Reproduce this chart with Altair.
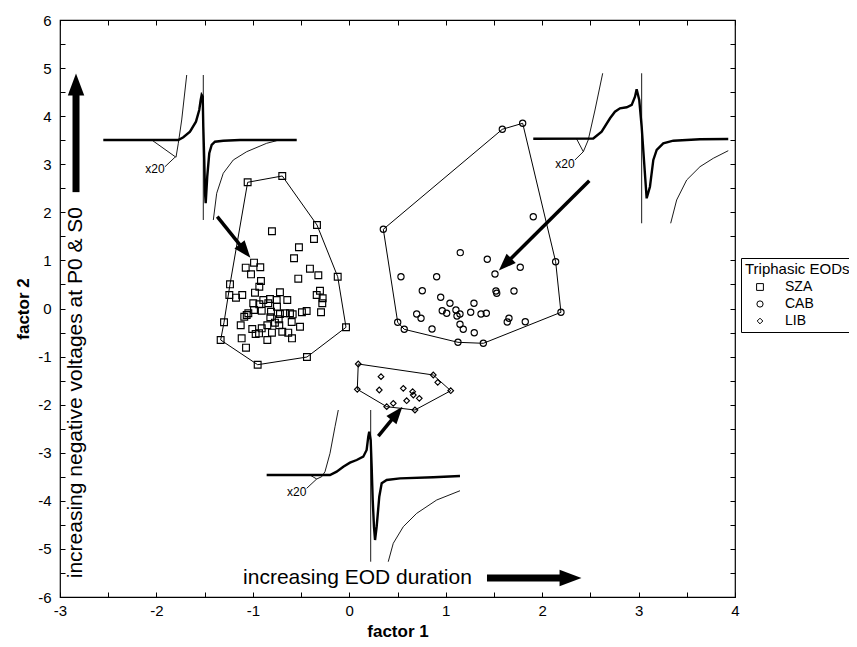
import math
import altair as alt
import pandas as pd

FONT = "Liberation Sans"
W, H = 675, 577
XDOM, YDOM = [-3, 4], [-6, 6]
groups = ["SZA", "CAB", "LIB"]

# ---------------- scatter data (factor 1, factor 2) ----------------
sza_hull_x = [-1.054, -0.695, -0.335, -0.120, -0.034, -0.439, -0.950, -1.334, -1.299, -1.237]
sza_hull_y = [2.625, 2.756, 1.737, 0.661, -0.391, -1.009, -1.169, -0.655, -0.287, 0.503]
sza_x = [-0.802, -0.366, -0.522, -0.573, -0.408, -0.321, -0.529, -0.988, -1.074, -0.923,
         -1.019, -0.916, -0.933, -1.244, -1.175, -1.110, -0.978, -0.719, -0.643, -0.304,
         -0.338, -0.276, -0.280, -0.293, -0.996, -0.933, -0.840, -0.908, -0.988, -0.750,
         -0.812, -1.064, -1.089, -0.667, -0.719, -0.587, -0.491, -0.442, -0.819, -0.732,
         -0.726, -0.597, -0.511, -1.126, -1.006, -0.908, -0.850, -0.971, -0.936, -0.802,
         -0.850, -0.695, -0.633, -0.594, -1.116, -1.071, -0.822, -0.892, -0.615, -0.753,
         -0.771, -1.047]
sza_y = [1.606, 1.446, 1.273, 1.044, 0.828, 0.691, 0.620, 0.953, 0.849, 0.857,
         0.711, 0.572, 0.453, 0.281, 0.225, 0.281, 0.329, 0.337, 0.177, 0.370,
         0.281, 0.212, 0.108, -0.079, 0.108, 0.087, 0.108, -0.046, -0.031, 0.037,
         -0.067, -0.135, -0.171, -0.100, -0.114, -0.121, -0.079, -0.052, -0.183, -0.225,
         -0.349, -0.281, -0.379, -0.349, -0.426, -0.412, -0.349, -0.530, -0.516, -0.503,
         -0.655, -0.483, -0.503, -0.620, -0.620, -0.815, 0.198, 0.177, -0.100, 0.177,
         -0.295, -0.100]

cab_hull_x = [0.353, 1.587, 1.798, 2.140, 2.195, 1.390, 1.127, 0.570, 0.502]
cab_hull_y = [1.647, 3.727, 3.852, 0.973, -0.079, -0.724, -0.703, -0.433, -0.287]
cab_x = [1.908, 1.151, 1.431, 1.511, 1.773, 0.536, 0.906, 0.757, 1.521, 1.529,
         1.708, 0.948, 1.044, 1.293, 0.699, 0.744, 0.964, 1.010, 1.106, 1.148,
         1.259, 1.366, 1.421, 1.148, 1.182, 0.858, 1.296, 1.638, 1.656, 1.825, 1.117]
cab_y = [1.909, 1.161, 1.023, 0.718, 0.857, 0.661, 0.661, 0.370, 0.364, 0.316,
         0.364, 0.233, 0.108, 0.108, -0.114, -0.204, -0.046, -0.100, -0.031, -0.114,
         -0.079, -0.114, -0.100, -0.329, -0.433, -0.426, -0.503, -0.281, -0.204, -0.275, -0.156]

lib_hull_x = [0.093, 0.871, 1.052, 0.681, 0.388, 0.083]
lib_hull_y = [-1.154, -1.383, -1.710, -2.111, -2.042, -1.681]
lib_x = [0.329, 0.311, 0.560, 0.657, 0.664, 0.726, 0.595, 0.917, 0.456]
lib_y = [-1.418, -1.695, -1.660, -1.730, -1.799, -1.868, -1.918, -1.535, -1.972]

# ---------------- EOD waveform insets ----------------
w1_main_x = [-2.551, -1.773, -1.721, -1.652, -1.590, -1.556, -1.541, -1.531, -1.520, -1.514,
             -1.504, -1.496, -1.489, -1.473, -1.452, -1.427, -1.393, -1.307, -1.133, -0.545]
w1_main_y = [3.505, 3.505, 3.561, 3.677, 3.885, 4.128, 4.336, 4.440, 4.405, 3.781,
             3.089, 2.396, 2.188, 2.741, 3.228, 3.401, 3.469, 3.490, 3.505, 3.505]
w1_ampl_x = [-2.049, -1.797, -1.773, -1.738, -1.686]
w1_ampl_y = [3.505, 3.145, 3.436, 3.921, 4.856]
w1_ampr_x = [-1.410, -1.375, -1.307, -1.203, -1.064, -0.857, -0.753]
w1_ampr_y = [1.841, 2.396, 2.812, 3.089, 3.261, 3.436, 3.490]
w1_mark_x = [-1.514, -1.514]
w1_mark_y = [4.856, 1.841]
w1_lead_x = [-1.911, -1.808]
w1_lead_y = [2.949, 3.145]

w2_main_x = [1.908, 2.530, 2.617, 2.704, 2.755, 2.807, 2.877, 2.929, 2.963, 2.980, 3.007,
             3.032, 3.056, 3.084, 3.118, 3.153, 3.188, 3.256, 3.360, 3.637, 3.930]
w2_main_y = [3.530, 3.535, 3.677, 3.956, 4.093, 4.164, 4.185, 4.233, 4.405, 4.559, 4.337,
             3.781, 3.089, 2.292, 2.533, 3.089, 3.297, 3.436, 3.490, 3.519, 3.525]
w2_ampl_x = [2.358, 2.427, 2.478, 2.548, 2.628]
w2_ampl_y = [3.525, 3.261, 3.505, 4.128, 4.892]
w2_ampr_x = [3.333, 3.395, 3.499, 3.637, 3.775, 3.930]
w2_ampr_y = [1.772, 2.257, 2.673, 2.949, 3.124, 3.282]
w2_mark_x = [3.032, 3.032]
w2_mark_y = [4.892, 1.772]
w2_lead_x = [2.340, 2.427]
w2_lead_y = [3.089, 3.261]

w3_main_x = [-0.857, -0.200, -0.131, -0.062, 0.007, 0.077, 0.145, 0.180, 0.197, 0.207, 0.222,
             0.232, 0.243, 0.256, 0.267, 0.284, 0.311, 0.336, 0.388, 0.526, 0.871, 1.148]
w3_main_y = [-3.463, -3.463, -3.394, -3.290, -3.207, -3.151, -3.082, -2.943, -2.666, -2.562, -2.735,
             -3.290, -3.983, -4.538, -4.815, -4.538, -3.914, -3.636, -3.567, -3.532, -3.511, -3.484]
w3_ampl_x = [-0.408, -0.338, -0.286, -0.252, -0.200, -0.148, -0.114]
w3_ampl_y = [-3.463, -3.546, -3.498, -3.394, -3.012, -2.458, -2.111]
w3_ampr_x = [0.404, 0.456, 0.560, 0.699, 0.906, 1.148]
w3_ampr_y = [-5.266, -4.884, -4.538, -4.260, -3.983, -3.790]
w3_mark_x = [0.222, 0.222]
w3_mark_y = [-2.111, -5.266]
w3_lead_x = [-0.442, -0.338]
w3_lead_y = [-3.740, -3.546]

gain_label = "x20"
gain_x = [-2.015, 2.237, -0.546]
gain_y = [2.901, 2.999, -3.810]

# ---------------- arrows ----------------
arrow_tail_x = [-1.369, 2.489, 0.301]
arrow_tail_y = [1.909, 2.658, -2.652]
arrow_head_x = [-1.082, 1.615, 0.494]
arrow_head_y = [1.194, 0.917, -2.180]

big_tail_x = [-2.834, 1.428]
big_tail_y = [2.42, -5.605]
big_head_x = [-2.834, 2.294]
big_head_y = [4.659, -5.605]

note_h = "increasing EOD duration"
note_h_x, note_h_y = 0.085, -5.605
note_v = "increasing negative voltages at P0 & S0"
note_v_x, note_v_y = -2.834, -1.75

xticks = [-3 + 0.5 * i for i in range(15)]
yticks = [-6 + 0.5 * i for i in range(25)]

# ---------------- tables ----------------
pts = pd.concat([
    pd.DataFrame({"group": "SZA", "x": sza_hull_x + sza_x, "y": sza_hull_y + sza_y}),
    pd.DataFrame({"group": "CAB", "x": cab_hull_x + cab_x, "y": cab_hull_y + cab_y}),
    pd.DataFrame({"group": "LIB", "x": lib_hull_x + lib_x, "y": lib_hull_y + lib_y}),
], ignore_index=True)


def line_df(name, xs, ys, close=False):
    xs, ys = list(xs), list(ys)
    if close:
        xs, ys = xs + xs[:1], ys + ys[:1]
    return pd.DataFrame({"id": name, "i": range(len(xs)), "x": xs, "y": ys})


hull = pd.concat([
    line_df("SZA", sza_hull_x, sza_hull_y, True),
    line_df("CAB", cab_hull_x, cab_hull_y, True),
    line_df("LIB", lib_hull_x, lib_hull_y, True),
], ignore_index=True)

thick = pd.concat([
    line_df("w1", w1_main_x, w1_main_y),
    line_df("w2", w2_main_x, w2_main_y),
    line_df("w3", w3_main_x, w3_main_y),
], ignore_index=True)

thin = pd.concat([
    line_df("w1l", w1_ampl_x, w1_ampl_y), line_df("w1r", w1_ampr_x, w1_ampr_y),
    line_df("w1m", w1_mark_x, w1_mark_y), line_df("w1d", w1_lead_x, w1_lead_y),
    line_df("w2l", w2_ampl_x, w2_ampl_y), line_df("w2r", w2_ampr_x, w2_ampr_y),
    line_df("w2m", w2_mark_x, w2_mark_y), line_df("w2d", w2_lead_x, w2_lead_y),
    line_df("w3l", w3_ampl_x, w3_ampl_y), line_df("w3r", w3_ampr_x, w3_ampr_y),
    line_df("w3m", w3_mark_x, w3_mark_y), line_df("w3d", w3_lead_x, w3_lead_y),
], ignore_index=True)

KX, KY = W / (XDOM[1] - XDOM[0]), H / (YDOM[1] - YDOM[0])


def arrow_df(tx, ty, hx, hy):
    df = pd.DataFrame({"x": tx, "y": ty, "x2": hx, "y2": hy})
    df["angle"] = [
        math.degrees(math.atan2((b - a) * KX, (d - c) * KY)) % 360
        for a, b, c, d in zip(tx, hx, ty, hy)
    ]
    return df


arrows = arrow_df(arrow_tail_x, arrow_tail_y, arrow_head_x, arrow_head_y)
big_arrows = arrow_df(big_tail_x, big_tail_y, big_head_x, big_head_y)
gains = pd.DataFrame({"x": gain_x, "y": gain_y, "t": gain_label})
notes_h = pd.DataFrame({"x": [note_h_x], "y": [note_h_y], "t": [note_h]})
notes_v = pd.DataFrame({"x": [note_v_x], "y": [note_v_y], "t": [note_v]})

xs = alt.Scale(domain=XDOM, nice=False, zero=False)
ys = alt.Scale(domain=YDOM, nice=False, zero=False)


def ex(f="x"):
    return alt.X(f"{f}:Q", scale=xs, axis=None)


def ey(f="y"):
    return alt.Y(f"{f}:Q", scale=ys, axis=None)


hull_layer = alt.Chart(hull).mark_line(color="black", strokeWidth=1).encode(
    x=ex(), y=ey(), detail="id:N", order="i:Q")
thin_layer = alt.Chart(thin).mark_line(color="black", strokeWidth=0.9).encode(
    x=ex(), y=ey(), detail="id:N", order="i:Q")
thick_layer = alt.Chart(thick).mark_line(color="black", strokeWidth=2.4).encode(
    x=ex(), y=ey(), detail="id:N", order="i:Q")

HEAD = "M0,-1L0.75,1L-0.75,1Z"
shaft = alt.Chart(arrows).mark_rule(color="black", strokeWidth=3.5, strokeCap="butt").encode(
    x=ex(), y=ey(), x2="x2:Q", y2="y2:Q")
heads = alt.Chart(arrows).mark_point(shape=HEAD, filled=True, color="black", opacity=1, size=300).encode(
    x=ex("x2"), y=ey("y2"), angle=alt.Angle("angle:Q", scale=None))
big_shaft = alt.Chart(big_arrows).mark_rule(color="black", strokeWidth=7, strokeCap="butt").encode(
    x=ex(), y=ey(), x2="x2:Q", y2="y2:Q")
big_heads = alt.Chart(big_arrows).mark_point(shape=HEAD, filled=True, color="black", opacity=1, size=480).encode(
    x=ex("x2"), y=ey("y2"), angle=alt.Angle("angle:Q", scale=None))

gain_layer = alt.Chart(gains).mark_text(font=FONT, fontSize=12, color="black").encode(
    x=ex(), y=ey(), text="t:N")
note_h_layer = alt.Chart(notes_h).mark_text(font=FONT, fontSize=21, color="black").encode(
    x=ex(), y=ey(), text="t:N")
note_v_layer = alt.Chart(notes_v).mark_text(font=FONT, fontSize=21, color="black", angle=270).encode(
    x=ex(), y=ey(), text="t:N")

label_expr = "datum.value % 1 == 0 ? toString(datum.value) : ''"

points = alt.Chart(pts).mark_point(filled=False, color="black", strokeWidth=1.15, opacity=1).encode(
    x=alt.X("x:Q", scale=xs, axis=alt.Axis(
        orient="bottom", values=xticks, labelExpr=label_expr, tickSize=5, offset=-5,
        domain=False, grid=False, tickColor="black", labelColor="black", labelFont=FONT,
        labelFontSize=15, labelPadding=6, labelFlush=False, labelOverlap=False,
        title="factor 1", titleFont=FONT, titleFontSize=17, titleFontWeight="bold",
        titleColor="black", titlePadding=5)),
    y=alt.Y("y:Q", scale=ys, axis=alt.Axis(
        orient="left", values=yticks, labelExpr=label_expr, tickSize=5, offset=-5,
        domain=False, grid=False, tickColor="black", labelColor="black", labelFont=FONT,
        labelFontSize=15, labelPadding=9, labelFlush=False, labelOverlap=False,
        title="factor 2", titleFont=FONT, titleFontSize=17, titleFontWeight="bold",
        titleColor="black", titlePadding=5)),
    shape=alt.Shape("group:N", scale=alt.Scale(domain=groups, range=["square", "circle", "diamond"]),
                    legend=alt.Legend(
                        title="Triphasic EODs", orient="none", legendX=681, legendY=238,
                        strokeColor="black", fillColor="white", padding=4, cornerRadius=0,
                        titleFont=FONT, titleFontSize=15, titleFontWeight="normal", titleColor="black",
                        labelFont=FONT, labelFontSize=14, labelColor="black",
                        symbolStrokeColor="black", symbolStrokeWidth=1, symbolFillColor="white",
                        symbolOffset=8, labelOffset=18, rowPadding=3, titlePadding=3)),
    size=alt.Size("group:N", scale=alt.Scale(domain=groups, range=[46, 32, 28])),
)

frame_axes = alt.Chart(pts).mark_point(opacity=0).encode(
    x=alt.X("x:Q", scale=xs, axis=alt.Axis(
        orient="top", values=xticks, labels=False, tickSize=5, offset=-5, domain=False,
        grid=False, tickColor="black", title=None)),
    y=alt.Y("y:Q", scale=ys, axis=alt.Axis(
        orient="right", values=yticks, labels=False, tickSize=5, offset=-5, domain=False,
        grid=False, tickColor="black", title=None)),
)

chart = alt.layer(
    hull_layer, thin_layer, thick_layer, shaft, heads, big_shaft, big_heads,
    gain_layer, note_h_layer, note_v_layer, points, frame_axes,
).resolve_axis(x="independent", y="independent").properties(
    width=W, height=H,
    autosize=alt.AutoSizeParams(type="none"),
    padding={"left": 52, "top": 12, "right": 114, "bottom": 42},
    background="white",
).configure_view(stroke="black", strokeWidth=1.2)

chart.save("out.html", embed_options={"renderer": "svg", "actions": False})
